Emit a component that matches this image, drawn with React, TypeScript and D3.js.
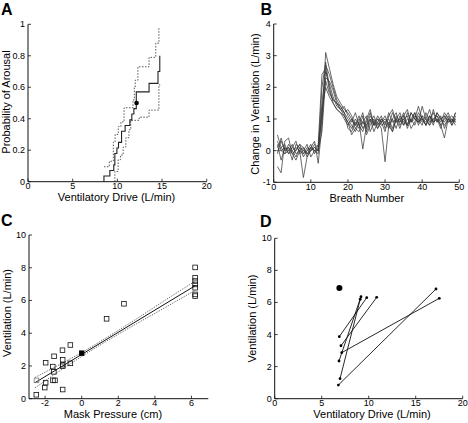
import React from 'react';
import * as d3 from 'd3';

const FONT = "'Liberation Sans', Arial, Helvetica, sans-serif";

// ---------- Panel A data ----------
const aSolid: [number, number][] = [
  [8.5, 0], [8.5, 0.036], [9.16, 0.071], [9.6, 0.107], [9.72, 0.179], [9.95, 0.214],
  [10.13, 0.25], [10.47, 0.321], [10.87, 0.357], [11.4, 0.393], [11.62, 0.43],
  [11.85, 0.464], [12.12, 0.571], [13.55, 0.625], [14.55, 0.7], [14.75, 0.8],
];
const aUpper: [number, number][] = [
  [8.5, 0.095], [9.1, 0.13], [9.55, 0.25], [9.75, 0.3], [10.1, 0.35], [10.4, 0.38],
  [10.75, 0.47], [11.75, 0.52], [11.9, 0.6], [12.0, 0.645], [12.3, 0.73],
  [13.55, 0.79], [14.3, 0.88], [14.65, 0.98],
];
const aLower: [number, number][] = [
  [9.72, 0], [9.72, 0.065], [10.09, 0.14], [10.36, 0.17], [10.65, 0.22], [10.95, 0.28],
  [11.3, 0.33], [11.5, 0.39], [12.45, 0.41], [13.55, 0.455], [14.65, 0.615], [14.8, 0.615],
];
const aDot: [number, number] = [12.15, 0.5];
const aXTicks = [0, 5, 10, 15, 20];
const aYTicks = [0, 0.2, 0.4, 0.6, 0.8, 1];

// ---------- Panel B data ----------
const breaths = d3.range(1, 50);
const bS1 = [0.5, 0.1, 0.2, -0.1, 0.1, 0.0, 0.2, -0.1, 0.1, 0.0, 0.2, 0.1, 1.0, 3.1, 2.6, 2.1, 1.7, 1.5, 1.3, 1.2,
  1.0, 0.8, 1.1, 0.7, 0.9, 1.2, 0.8, 1.0, 0.9, 0.6, 1.1, 1.3, 0.9, 1.0, 0.8, 1.2, 0.9, 1.1, 1.0, 0.8, 1.2, 0.9, 1.0, 1.1, 0.8, 1.0, 1.2, 0.9, 1.0];
const bS2 = [-0.5, -0.7, 0.3, 0.4, -0.1, -0.3, 0.0, -0.85, -0.2, 0.1, 0.3, -0.4, 0.8, 2.7, 2.4, 2.0, 1.6, 1.4, 1.2, 0.7,
  0.6, 0.9, 0.7, 1.1, 0.5, 0.8, 1.0, 0.7, 0.9, 1.1, 0.8, 0.6, 1.0, 0.9, 1.2, 0.7, 1.0, 0.8, 1.1, 0.9, 1.0, 0.8, 1.3, 0.9, 1.1, 0.7, 1.0, 0.9, 1.2];
const bS3 = [0.3, 0.0, -0.1, 0.2, 0.0, -0.2, 0.1, 0.0, -0.1, 0.1, 0.0, 0.2, 2.4, 2.6, 1.9, 1.6, 1.5, 1.3, 1.1, 0.9,
  0.5, 0.7, 0.6, 0.9, 0.8, 1.0, 0.6, 0.9, 0.7, -0.35, 0.8, 1.0, 0.7, 1.1, 0.9, 0.8, 1.0, 1.2, 0.9, 1.0, 0.8, 1.1, 0.9, 1.0, 0.7, 1.1, 0.9, 1.0, 0.9];
const bS4 = [0.0, 0.1, -0.1, 0.0, 0.2, -0.1, 0.0, 0.1, -0.1, 0.0, 0.1, 0.0, 1.2, 2.2, 1.8, 1.6, 1.5, 1.4, 1.2, 1.0,
  0.8, 0.6, 0.9, 0.05, 0.8, 1.1, 0.9, 0.7, 1.0, 0.8, 1.2, 0.9, 1.0, 0.7, 1.1, 1.3, 0.9, 1.0, 1.4, 1.0, 0.9, 1.1, 0.8, 1.2, 1.0, 0.9, 1.1, 0.8, 1.1];
const bS5 = [0.1, 0.3, 0.0, 0.1, -0.3, 0.2, 0.1, -0.2, 0.0, 0.2, -0.1, 0.1, 1.5, 2.5, 2.1, 1.7, 1.4, 1.3, 1.4, 1.1,
  0.9, 1.2, 0.8, 0.6, 1.0, 1.3, 0.8, 0.9, 1.1, 0.7, 0.9, 0.6, 1.0, 1.2, 0.8, 1.0, 0.9, 1.2, 0.8, 1.1, 1.0, 1.3, 0.9, 1.0, 0.8, 0.4, 1.0, 1.1, 0.9];
const bS6 = [0.2, -0.3, 0.1, 0.0, 0.1, 0.3, -0.1, 0.0, 0.2, -0.2, 0.0, -0.1, 1.3, 2.0, 1.7, 1.5, 1.3, 1.2, 1.0, 0.8,
  1.0, 0.7, 0.9, 1.2, 0.6, 0.9, 1.1, 0.8, 1.0, 0.9, 0.7, 1.0, 1.2, 0.8, 1.0, 1.1, 0.7, 0.9, 1.2, 1.0, 0.8, 1.1, 0.9, 1.2, 1.0, 0.8, 1.0, 0.9, 1.2];
const bS7 = [-0.1, 0.4, 0.0, 0.1, -0.1, 0.0, 0.2, 0.1, -0.2, 0.0, 0.1, 0.0, 0.6, 2.3, 2.2, 1.9, 1.5, 1.3, 1.2, 1.3,
  1.1, 0.8, 1.0, 0.9, 0.7, 1.0, 0.8, 1.1, 0.9, 1.0, 0.8, 1.2, 0.9, 1.0, 1.1, 0.8, 1.2, 1.0, 0.9, 1.4, 1.0, 0.8, 1.0, 1.1, 0.9, 1.2, 1.0, 0.8, 1.0];
const bS8 = [0.0, 0.0, 0.1, -0.1, 0.0, 0.1, 0.0, -0.1, 0.0, 0.1, 0.0, 0.0, 2.0, 2.8, 2.0, 1.5, 1.3, 1.2, 1.1, 0.9,
  0.7, 1.0, 0.8, 0.9, 1.1, 0.6, 0.9, 1.0, 0.8, 0.9, 1.0, 0.7, 1.1, 0.9, 1.0, 0.8, 1.2, 1.0, 0.9, 1.1, 0.8, 1.0, 1.2, 0.9, 1.0, 1.1, 0.9, 1.0, 0.8];
const bSeries = [bS1, bS2, bS3, bS4, bS5, bS6, bS7, bS8];
const bXTicks = [0, 10, 20, 30, 40, 50];
const bYTicks = [-1, 0, 1, 2, 3, 4];

// ---------- Panel C data ----------
const cPressure = [-2.48, -2.47, -2.02, -1.97, -1.97, -1.58, -1.51, -1.57, -1.46, -1.52, -1.05, -1.04, -1.04, -1.04, -1.04, -0.62, -0.62, 1.36, 2.31, 6.2, 6.2, 6.2, 6.2, 6.2, 6.2, 6.2];
const cVent = [0.24, 1.12, 0.68, 0.98, 2.2, 1.96, 2.59, 1.12, 1.12, 1.64, 2.96, 2.38, 2.08, 1.98, 0.56, 3.28, 2.16, 4.88, 5.8, 8.02, 7.39, 7.19, 6.98, 6.78, 6.37, 6.27];
const cFilled: [number, number] = [0, 2.78];
const cFitX = [-2.55, 6.2];
const cFitY = [0.98, 6.9];
const cBandX = [-2.55, -1, 0, 1.5, 3, 4.5, 6.2];
const cBandHi = [1.3, 2.21, 2.82, 3.83, 4.88, 5.97, 7.18];
const cBandLo = [0.66, 1.85, 2.58, 3.61, 4.58, 5.53, 6.62];
const cXTicks = [-2, 0, 2, 4, 6];
const cYTicks = [0, 2, 4, 6, 8, 10];

// ---------- Panel D data ----------
const dDriveStart = [6.87, 7.05, 6.84, 6.95, 6.77, 7.13];
const dVentStart = [3.87, 3.3, 2.35, 1.25, 0.85, 2.87];
const dDriveEnd = [9.79, 10.85, 9.18, 9.1, 17.16, 17.51];
const dVentEnd = [6.3, 6.32, 6.36, 6.2, 6.84, 6.26];
const dBig: [number, number] = [6.88, 6.9];
const dXTicks = [0, 5, 10, 15, 20];
const dYTicks = [0, 2, 4, 6, 8, 10];

type Sc = d3.ScaleLinear<number, number>;

function Axes(props: {
  x: Sc; y: Sc; xTicks: number[]; yTicks: number[];
  xLabel: string; yLabel: string; xl: [number, number]; yl: [number, number];
}) {
  const { x, y, xTicks, yTicks, xLabel, yLabel, xl, yl } = props;
  const [x0, x1] = x.range();
  const [y0, y1] = y.range();
  return (
    <g fontFamily={FONT} fill="#000">
      <line x1={x0} x2={x1} y1={y0} y2={y0} stroke="#111" strokeWidth={1} />
      <line x1={x0} x2={x0} y1={y0} y2={y1} stroke="#111" strokeWidth={1} />
      {xTicks.map(t => (
        <g key={'x' + t}>
          <line x1={x(t)} x2={x(t)} y1={y0} y2={y0 - 3} stroke="#111" strokeWidth={0.8} />
          <text x={x(t)} y={y0 + 7.6} fontSize={9} textAnchor="middle">{String(t)}</text>
        </g>
      ))}
      {yTicks.map(t => (
        <g key={'y' + t}>
          <line x1={x0} x2={x0 + 3} y1={y(t)} y2={y(t)} stroke="#111" strokeWidth={0.8} />
          <text x={x0 - 3} y={y(t)} dy="0.33em" fontSize={9} textAnchor="end">{String(t)}</text>
        </g>
      ))}
      <text x={xl[0]} y={xl[1]} fontSize={11} textAnchor="middle">{xLabel}</text>
      <text transform={`translate(${yl[0]},${yl[1]}) rotate(-90)`} fontSize={11} textAnchor="middle">{yLabel}</text>
    </g>
  );
}

function PanelA() {
  const x = d3.scaleLinear().domain([0, 20]).range([28, 206.7]);
  const y = d3.scaleLinear().domain([0, 1]).range([181.7, 24.3]);
  const line = d3.line<[number, number]>().x(d => x(d[0])).y(d => y(d[1])).curve(d3.curveStepAfter);
  return (
    <g>
      <path d={line(aUpper) || ''} fill="none" stroke="#555" strokeWidth={1} strokeDasharray="1.5,1.5" />
      <path d={line(aLower) || ''} fill="none" stroke="#555" strokeWidth={1} strokeDasharray="1.5,1.5" />
      <path d={line(aSolid) || ''} fill="none" stroke="#222" strokeWidth={1.1} />
      <circle cx={x(aDot[0])} cy={y(aDot[1])} r={2.3} fill="#000" />
      <Axes x={x} y={y} xTicks={aXTicks} yTicks={aYTicks}
        xLabel="Ventilatory Drive (L/min)" yLabel="Probability of Arousal"
        xl={[116.5, 201.2]} yl={[9.8, 102]} />
    </g>
  );
}

function PanelB() {
  const x = d3.scaleLinear().domain([0, 50]).range([273.7, 459.3]);
  const y = d3.scaleLinear().domain([-1, 4]).range([182.3, 24]);
  const line = d3.line<number>().x((_, i) => x(breaths[i])).y(d => y(d));
  return (
    <g>
      {bSeries.map((s, i) => (
        <path key={i} d={line(s) || ''} fill="none" stroke="#3a3a3a" strokeWidth={0.75} />
      ))}
      <Axes x={x} y={y} xTicks={bXTicks} yTicks={bYTicks}
        xLabel="Breath Number" yLabel="Change in Ventilation (L/min)"
        xl={[366.8, 201.8]} yl={[258.5, 104]} />
    </g>
  );
}

function PanelC() {
  const x = d3.scaleLinear().domain([-2.88, 6.92]).range([29, 208.3]);
  const y = d3.scaleLinear().domain([0, 10]).range([398.7, 235]);
  const fit = d3.line<number>().x((_, i) => x(cFitX[i])).y(d => y(d));
  const band = d3.line<number>().x((_, i) => x(cBandX[i])).y(d => y(d)).curve(d3.curveMonotoneX);
  const s = 4.6;
  return (
    <g>
      <path d={band(cBandHi) || ''} fill="none" stroke="#555" strokeWidth={0.9} strokeDasharray="1.3,1.3" />
      <path d={band(cBandLo) || ''} fill="none" stroke="#555" strokeWidth={0.9} strokeDasharray="1.3,1.3" />
      <path d={fit(cFitY) || ''} fill="none" stroke="#111" strokeWidth={1} />
      {cPressure.map((p, i) => (
        <rect key={i} x={x(p) - s / 2} y={y(cVent[i]) - s / 2} width={s} height={s}
          fill="none" stroke={i === 1 ? '#777' : '#111'} strokeWidth={0.8} />
      ))}
      <rect x={x(cFilled[0]) - s / 2} y={y(cFilled[1]) - s / 2} width={s} height={s} fill="#000" stroke="#000" strokeWidth={0.8} />
      <Axes x={x} y={y} xTicks={cXTicks} yTicks={cYTicks}
        xLabel="Mask Pressure (cm)" yLabel="Ventilation (L/min)"
        xl={[113, 418.4]} yl={[10.8, 313]} />
    </g>
  );
}

function PanelD() {
  const x = d3.scaleLinear().domain([0, 20]).range([274.7, 462.7]);
  const y = d3.scaleLinear().domain([0, 10]).range([398.7, 238.3]);
  return (
    <g>
      {dDriveStart.map((d, i) => (
        <g key={i}>
          <line x1={x(d)} y1={y(dVentStart[i])} x2={x(dDriveEnd[i])} y2={y(dVentEnd[i])} stroke="#111" strokeWidth={0.9} />
          <circle cx={x(d)} cy={y(dVentStart[i])} r={1.4} fill="#000" />
          <circle cx={x(dDriveEnd[i])} cy={y(dVentEnd[i])} r={1.4} fill="#000" />
        </g>
      ))}
      <circle cx={x(dBig[0])} cy={y(dBig[1])} r={3} fill="#000" />
      <Axes x={x} y={y} xTicks={dXTicks} yTicks={dYTicks}
        xLabel="Ventilatory Drive (L/min)" yLabel="Ventilation (L/min)"
        xl={[372, 418.4]} yl={[255.5, 318.5]} />
    </g>
  );
}

export default function App() {
  const letter = (t: string, xx: number, yy: number) => (
    <text x={xx} y={yy} fontFamily={FONT} fontWeight="bold" fontSize={16}>{t}</text>
  );
  return (
    <svg width={468} height={423} style={{ position: 'absolute', left: 0, top: 0, background: '#fff' }}>
      <rect width={468} height={423} fill="#fff" />
      {letter('A', 1, 14.5)}
      {letter('B', 260.5, 15)}
      {letter('C', 1, 225.5)}
      {letter('D', 260, 226.5)}
      <PanelA />
      <PanelB />
      <PanelC />
      <PanelD />
    </svg>
  );
}
